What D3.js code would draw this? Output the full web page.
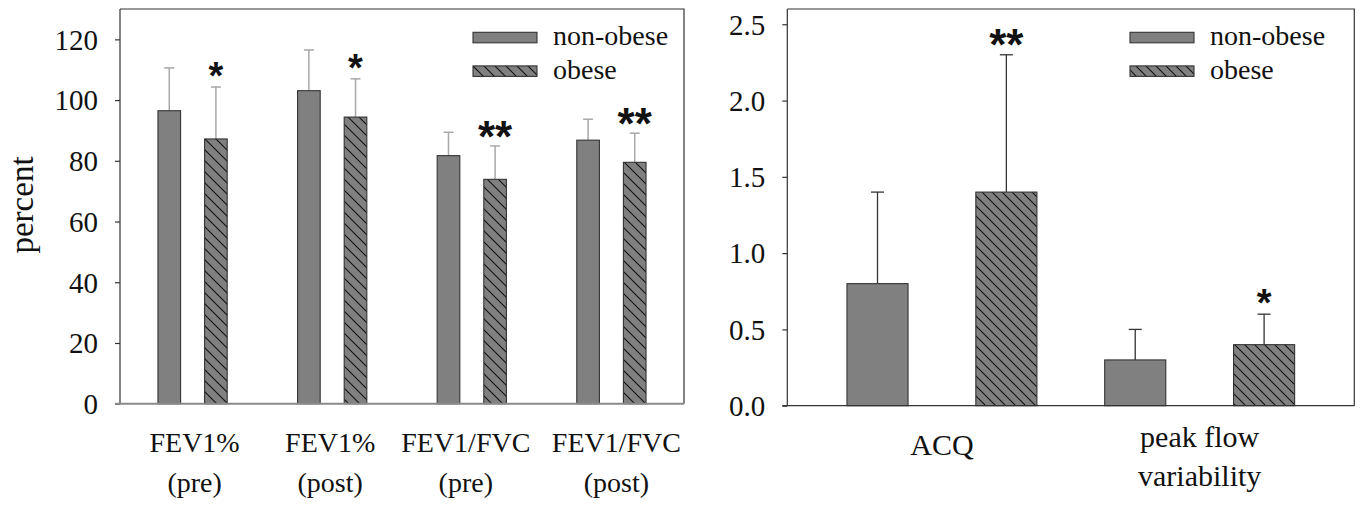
<!DOCTYPE html>
<html>
<head>
<meta charset="utf-8">
<script src="https://cdn.jsdelivr.net/npm/d3@7"></script>
<style>
  body { margin: 0; background: #fff; }
  svg { display: block; }
</style>
</head>
<body>
<div id="canvas"></div>
<script>
// left panel: lung function, percent
let leftCategories = [["FEV1%", "(pre)"], ["FEV1%", "(post)"], ["FEV1/FVC", "(pre)"], ["FEV1/FVC", "(post)"]]
let leftNonObese = [96.5, 103.1, 81.7, 86.8]
let leftNonObeseErr = [14.1, 13.4, 7.7, 6.9]
let leftObese = [87.2, 94.4, 73.9, 79.5]
let leftObeseErr = [17.1, 12.6, 11.0, 9.6]
let leftStars = ["*", "*", "**", "**"]
let leftTicks = [0, 20, 40, 60, 80, 100, 120]

// right panel: ACQ and peak flow variability
let rightCategories = [["ACQ"], ["peak flow", "variability"]]
let rightNonObese = [0.8, 0.3]
let rightNonObeseErr = [0.6, 0.2]
let rightObese = [1.4, 0.4]
let rightObeseErr = [0.9, 0.2]
let rightStars = ["**", "*"]
let rightTicks = [0, 0.5, 1.0, 1.5, 2.0, 2.5]

let seriesNames = ["non-obese", "obese"]

let svg = {}
let serif = "'Liberation Serif', 'Times New Roman', serif"

window.onload = function () { setup() }

function setup() {
  svg = d3.select("#canvas")
    .append("svg")
    .attr("width", 1360)
    .attr("height", 506)

  let defs = svg.append("defs")
  makeHatch(defs, "hatchLeft", 11)
  makeHatch(defs, "hatchRight", 10)

  drawPanel({
    left: 120, right: 684, top: 9, bottom: 403.7,
    max: 130, pad: 0.52, offset: 0.167, barWidth: 0.162,
    categories: leftCategories,
    nonObese: leftNonObese, nonObeseErr: leftNonObeseErr,
    obese: leftObese, obeseErr: leftObeseErr,
    stars: leftStars, ticks: leftTicks, format: d3.format("d"),
    hatch: "hatchLeft", errColor: "#a8a8a8", errWidth: 1.5, cap: 5,
    baseColor: "#8a8a8a", baseWidth: 2,
    labelSize: 28, labelY: [452, 492], singleY: 454, labelShift: [2, -2, -6, 5],
    legendX: 473
  })

  drawPanel({
    left: 787.3, right: 1354.3, top: 9, bottom: 405.7,
    max: 2.6, pad: 0.6, offset: 0.25, barWidth: 0.237,
    categories: rightCategories,
    nonObese: rightNonObese, nonObeseErr: rightNonObeseErr,
    obese: rightObese, obeseErr: rightObeseErr,
    stars: rightStars, ticks: rightTicks, format: d3.format(".1f"),
    hatch: "hatchRight", errColor: "#333", errWidth: 1.3, cap: 6.5,
    baseColor: "#333", baseWidth: 1.3,
    labelSize: 30, labelY: [447, 486], singleY: 455, labelShift: [0, 0],
    legendX: 1130
  })

  svg.append("text")
    .attr("transform", "translate(33,205) rotate(-90)")
    .attr("text-anchor", "middle")
    .attr("font-family", serif)
    .attr("font-size", 33)
    .attr("fill", "#111")
    .text("percent")
}

function makeHatch(defs, id, size) {
  let p = defs.append("pattern")
    .attr("id", id)
    .attr("patternUnits", "userSpaceOnUse")
    .attr("width", size)
    .attr("height", size)
  p.append("rect")
    .attr("width", size)
    .attr("height", size)
    .attr("fill", "#808080")
  p.append("path")
    .attr("d", `M0,0L${size},${size}M${-2},${size - 2}L2,${size + 2}M${size - 2},-2L${size + 2},2`)
    .attr("stroke", "#111")
    .attr("stroke-width", 1.1)
}

function drawPanel(cfg) {
  let g = svg.append("g")

  let x = d3.scalePoint()
    .domain(cfg.categories.map((d, i) => i))
    .range([cfg.left, cfg.right])
    .padding(cfg.pad)

  let y = d3.scaleLinear()
    .domain([0, cfg.max])
    .range([cfg.bottom, cfg.top])

  let step = x.step()
  let bw = step * cfg.barWidth

  // frame top + right
  g.append("path")
    .attr("d", `M${cfg.left},${cfg.top}H${cfg.right}V${cfg.bottom}`)
    .attr("fill", "none")
    .attr("stroke", "#333")
    .attr("stroke-width", 1.2)

  // y axis
  let yAxis = d3.axisLeft(y)
    .tickValues(cfg.ticks)
    .tickFormat(cfg.format)
    .tickSize(5)
    .tickPadding(17)
  let ya = g.append("g")
    .attr("transform", `translate(${cfg.left},0)`)
    .call(yAxis)
  ya.select(".domain")
    .attr("d", `M0,${cfg.top}V${cfg.bottom}`)
    .attr("stroke", "#333")
    .attr("stroke-width", 1.2)
  ya.selectAll(".tick line").attr("stroke", "#333").attr("stroke-width", 1.2)
  ya.selectAll(".tick text")
    .attr("font-family", serif)
    .attr("font-size", 29)
    .attr("fill", "#111")
    .attr("dy", "0.34em")

  // series
  let groups = [
    { vals: cfg.nonObese, errs: cfg.nonObeseErr, fill: "#808080", dir: -1 },
    { vals: cfg.obese, errs: cfg.obeseErr, fill: `url(#${cfg.hatch})`, dir: 1 }
  ]

  groups.forEach(s => {
    let rows = s.vals.map((v, i) => ({ i: i, v: v, e: s.errs[i] }))
    let cx = d => x(d.i) + s.dir * step * cfg.offset

    g.selectAll(null)
      .data(rows)
      .join("line")
      .attr("x1", cx).attr("x2", cx)
      .attr("y1", d => y(d.v)).attr("y2", d => y(d.v + d.e))
      .attr("stroke", cfg.errColor)
      .attr("stroke-width", cfg.errWidth)
    g.selectAll(null)
      .data(rows)
      .join("line")
      .attr("x1", d => cx(d) - cfg.cap).attr("x2", d => cx(d) + cfg.cap)
      .attr("y1", d => y(d.v + d.e)).attr("y2", d => y(d.v + d.e))
      .attr("stroke", cfg.errColor)
      .attr("stroke-width", cfg.errWidth)

    g.selectAll(null)
      .data(rows)
      .join("rect")
      .attr("x", d => cx(d) - bw / 2)
      .attr("y", d => y(d.v))
      .attr("width", bw)
      .attr("height", d => y(0) - y(d.v))
      .attr("fill", s.fill)
      .attr("stroke", "#333")
      .attr("stroke-width", 1.1)
  })

  // significance stars above obese bars
  let starRows = cfg.stars.map((t, i) => ({ i: i, t: t, top: cfg.obese[i] + cfg.obeseErr[i] }))
  g.selectAll(null)
    .data(starRows)
    .join("text")
    .attr("x", d => x(d.i) + step * cfg.offset)
    .attr("y", d => {
      let fs = d.t.length > 1 ? 44 : 38
      return y(d.top) - 19 + 0.56 * fs
    })
    .attr("text-anchor", "middle")
    .attr("font-family", "'Liberation Sans', Arial, sans-serif")
    .attr("font-weight", "bold")
    .attr("font-size", d => d.t.length > 1 ? 44 : 38)
    .attr("fill", "#111")
    .text(d => d.t)

  // baseline axis
  g.append("line")
    .attr("x1", cfg.left - 5).attr("x2", cfg.right)
    .attr("y1", y(0)).attr("y2", y(0))
    .attr("stroke", cfg.baseColor)
    .attr("stroke-width", cfg.baseWidth)

  // category labels
  cfg.categories.forEach((lines, i) => {
    lines.forEach((t, j) => {
      g.append("text")
        .attr("x", x(i) + cfg.labelShift[i])
        .attr("y", lines.length == 1 ? cfg.singleY : cfg.labelY[j])
        .attr("text-anchor", "middle")
        .attr("font-family", serif)
        .attr("font-size", cfg.labelSize)
        .attr("fill", "#111")
        .text(t)
    })
  })

  // legend
  let fills = ["#808080", `url(#${cfg.hatch})`]
  seriesNames.forEach((name, i) => {
    let yy = 32.3 + i * 33.6
    g.append("rect")
      .attr("x", cfg.legendX)
      .attr("y", yy)
      .attr("width", 64)
      .attr("height", 10.5)
      .attr("fill", fills[i])
      .attr("stroke", "#333")
      .attr("stroke-width", 1.1)
    g.append("text")
      .attr("x", cfg.legendX + 80)
      .attr("y", yy + 13)
      .attr("font-family", serif)
      .attr("font-size", 28)
      .attr("fill", "#111")
      .text(name)
  })
}
</script>
</body>
</html>
